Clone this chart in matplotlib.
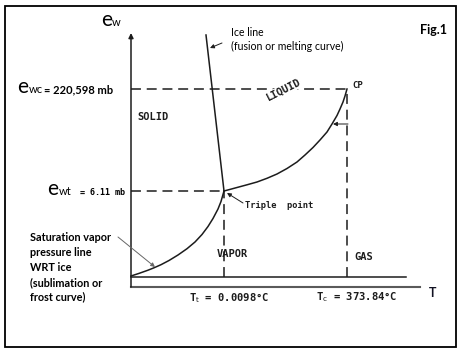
import matplotlib.pyplot as plt
from matplotlib.patches import Rectangle

# diagram units: origin at the corner of the axes, T to the right, e_w up
sub_T = [0, 8, 17, 23, 30, 38, 47, 56, 64, 71, 77, 82, 87, 90, 93]
sub_e = [1, 3.6, 6.8, 9.2, 12.3, 16.5, 22, 28.3, 35, 42.5, 50.5, 58.5, 68,
         75.5, 86]
vap_T = [93, 99, 106, 116, 126, 136, 146, 156, 166, 174, 182, 189, 196,
         201, 206, 209, 212, 214, 216]
vap_e = [86, 87.6, 89.5, 92.2, 95, 98.7, 103, 108.5, 115, 122, 129.5, 137,
         145, 153, 161.5, 168, 175, 181, 188]
ice_T = [75, 93]
ice_e = [242, 86]

triple = (93, 86)
critical = (216, 188)
T_end = 275
T_end2 = 289
e_top = 244
e_bottom = -10

ink = '#1c1c1c'
calibri = ['Lato', 'DejaVu Sans']
letter = 'DejaVu Sans Mono'

fig = plt.figure(figsize=(4.61, 3.52), dpi=100)
ax = fig.add_axes([0, 0, 1, 1])
ax.set_xlim(-131, 330)
ax.set_ylim(-75, 277)
ax.axis('off')

# frame round the figure
fig.patches.append(Rectangle((5 / 461, 5 / 352), 451 / 461, 341 / 352,
                             transform=fig.transFigure, fill=False,
                             edgecolor='black', linewidth=1.3))

# axes
ax.annotate('', xy=(0, e_top), xytext=(0, e_bottom),
            arrowprops=dict(arrowstyle='-|>', color=ink, lw=1.1,
                            mutation_scale=7, shrinkA=0, shrinkB=0))
ax.plot([0, T_end], [0, 0], color=ink, lw=1.1)
ax.plot([0, T_end2], [e_bottom, e_bottom], color='#5a5a5a', lw=1.5)

# phase boundaries
ax.plot(sub_T, sub_e, color=ink, lw=1.1, solid_joinstyle='round')
ax.plot(vap_T, vap_e, color=ink, lw=1.1, solid_joinstyle='round')
ax.plot(ice_T, ice_e, color=ink, lw=1.1)

# dashed guide lines
dash = dict(color=ink, lw=1.1, dashes=(6.5, 3.8))
ax.plot([0, critical[0]], [critical[1], critical[1]], **dash)
ax.plot([critical[0], critical[0]], [0, critical[1]], **dash)
ax.plot([0, triple[0]], [triple[1], triple[1]], **dash)
ax.plot([triple[0], triple[0]], [0, triple[1]], **dash)

# small pointer arrows
small = dict(arrowstyle='-|>', color=ink, lw=0.7, mutation_scale=6,
             shrinkA=0, shrinkB=0)
ax.annotate('', xy=(79, 229), xytext=(91, 234), arrowprops=small)
ax.annotate('', xy=(96, 84), xytext=(112, 74), arrowprops=small)
ax.annotate('', xy=(202, 153), xytext=(217, 153), arrowprops=small)
ax.annotate('', xy=(24, 10), xytext=(-13, 40),
            arrowprops=dict(small, color='#666666'))

# region and point labels
ax.text(6, 160, 'SOLID', family=letter, weight='bold', fontsize=7.5,
        va='center', color=ink)
ax.text(153, 187, 'LIQUID', family=letter, weight='bold', fontsize=7.5,
        rotation=27, ha='center', va='center', color=ink,
        bbox=dict(facecolor='white', edgecolor='none', pad=0.5))
ax.text(101, 23, 'VAPOR', family=letter, weight='bold', fontsize=7.5,
        ha='center', va='center', color=ink)
ax.text(223, 20, 'GAS', family=letter, weight='bold', fontsize=7.5,
        va='center', color=ink)
ax.text(221, 191, 'CP', family=letter, weight='bold', fontsize=6.5,
        va='center', color=ink)
ax.text(114, 71, 'Triple  point', family=letter, weight='bold', fontsize=6.3,
        va='center', color=ink)
ax.text(98, -21, r'T$_\mathrm{t}$ = 0.0098°C', family=letter, weight='bold',
        fontsize=7.6, ha='center', va='center', color=ink)
ax.text(226, -20, r'T$_\mathrm{c}$ = 373.84°C', family=letter, weight='bold',
        fontsize=7.6, ha='center', va='center', color=ink)
ax.text(298, -16, 'T', family=calibri, weight='bold', fontsize=9,
        va='center', color='#111122')

# e_w axis label and the two pressure levels
ax.text(-19, 251, 'e', family=calibri, fontsize=15, ha='right',
        va='baseline')
ax.text(-19, 251, 'w', family=calibri, fontsize=8, ha='left', va='baseline')
ax.text(-103, 184, 'e', family=calibri, fontsize=15, ha='right',
        va='baseline')
ax.text(-102, 184, 'wc', family=calibri, fontsize=8, ha='left',
        va='baseline')
ax.text(-87, 184, '= 220,598 mb', family=calibri, weight='bold',
        fontsize=8, ha='left', va='baseline')
ax.text(-73, 82, 'e', family=calibri, fontsize=15, ha='right',
        va='baseline')
ax.text(-72, 82, 'wt', family=calibri, fontsize=8, ha='left', va='baseline')
ax.text(-51, 82, '= 6.11 mb', family=letter, weight='bold', fontsize=6.0,
        ha='left', va='baseline')

# annotations
ax.text(100, 237.5, 'Ice line\n(fusion or melting curve)', family=calibri,
        fontsize=7.6, va='center', linespacing=1.35)
ax.text(289, 247, 'Fig.1', family=calibri, weight='bold', fontsize=9,
        va='center')
ax.text(-101, 9.5, 'Saturation vapor\npressure line\nWRT ice\n'
        '(sublimation or\nfrost curve)', family=calibri, weight='bold',
        fontsize=7.8, va='center', linespacing=1.42)

fig.savefig('out.png', dpi=100)
